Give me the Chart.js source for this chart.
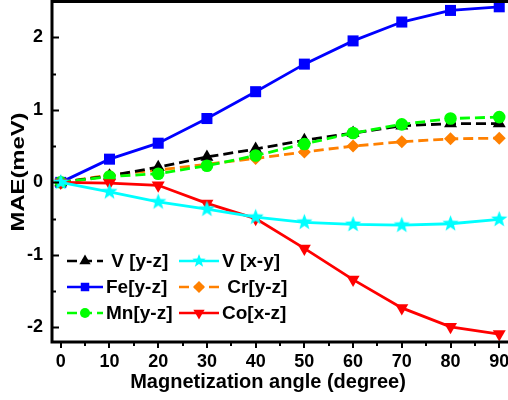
<!DOCTYPE html>
<html>
<head>
<meta charset="utf-8">
<script src="https://cdn.jsdelivr.net/npm/chart.js@4.4.1/dist/chart.umd.min.js"></script>
<style>
  html, body { margin: 0; padding: 0; background: #fff; }
</style>
</head>
<body>
<canvas id="mae" width="508" height="400"></canvas>
<script>
// magnetization angle (degree) and MAE (meV) per system
const angles = [0, 10, 20, 30, 40, 50, 60, 70, 80, 90];
const vYZ  = [0, 0.09, 0.21, 0.35, 0.46, 0.58, 0.68, 0.78, 0.81, 0.81];
const vXY  = [0, -0.13, -0.27, -0.37, -0.48, -0.55, -0.58, -0.59, -0.57, -0.51];
const feYZ = [0, 0.32, 0.54, 0.88, 1.25, 1.63, 1.95, 2.21, 2.37, 2.42];
const crYZ = [0, 0.10, 0.17, 0.25, 0.33, 0.42, 0.50, 0.56, 0.60, 0.61];
const mnYZ = [0, 0.08, 0.12, 0.23, 0.37, 0.53, 0.68, 0.80, 0.88, 0.90];
const coXZ = [0, -0.01, -0.04, -0.29, -0.50, -0.91, -1.34, -1.73, -1.99, -2.09];
const seriesLabels = [' V [y-z]', 'V [x-y]', 'Fe[y-z]', ' Cr[y-z]', 'Mn[y-z]', 'Co[x-z]'];
const xTicks = [0, 10, 20, 30, 40, 50, 60, 70, 80, 90];
const yTicks = [-2, -1, 0, 1, 2];

const FONT = 'Liberation Sans, Arial, sans-serif';

// filled 5 point star, chart.js 'star' is only an outline
function starImg(r, color) {
  const c = document.createElement('canvas');
  const s = Math.ceil(r * 2) + 2;
  c.width = s; c.height = s;
  const g = c.getContext('2d');
  g.fillStyle = color;
  g.beginPath();
  for (let i = 0; i < 10; i++) {
    const rr = i % 2 ? r * 0.42 : r;
    const a = -Math.PI / 2 + i * Math.PI / 5;
    g.lineTo(s / 2 + rr * Math.cos(a), s / 2 + rr * Math.sin(a));
  }
  g.closePath();
  g.fill();
  return c;
}

function series(label, values, color, style, radius, dashed, order, rot, legendStyle, legendRadius) {
  return {
    label: label,
    data: angles.map((a, i) => ({ x: a, y: values[i] })),
    borderColor: color,
    backgroundColor: color,
    borderWidth: 2.8,
    borderDash: dashed ? [10, 5] : [],
    pointStyle: style,
    pointRadius: radius,
    pointHoverRadius: radius,
    pointRotation: rot || 0,
    pointBorderWidth: 0,
    pointBackgroundColor: color,
    tension: 0,
    order: order,
    legendStyle: legendStyle || style,
    legendRadius: legendRadius
  };
}

const datasets = [
  series(seriesLabels[0], vYZ, '#000000', 'triangle', 7.5, true, 4, 0, null, 6.5),
  series(seriesLabels[1], vXY, '#00ffff', starImg(8.5, '#00ffff'), 8, false, 1, 0, starImg(7, '#00ffff'), 7),
  series(seriesLabels[2], feYZ, '#0000ff', 'rect', 7.8, false, 6, 0, null, 6),
  series(seriesLabels[3], crYZ, '#ff8000', 'rectRot', 6.5, true, 5, 0, null, 6),
  series(seriesLabels[4], mnYZ, '#00ff00', 'circle', 6.3, true, 3, 0, null, 5),
  series(seriesLabels[5], coXZ, '#ff0000', 'triangle', 7.5, false, 2, 180, null, 6.5)
];

// frame, inward/outward ticks, axis titles and the in-plot legend
const decor = {
  id: 'decor',
  afterDraw(chart) {
    const { ctx, chartArea: a, scales: { x, y } } = chart;
    ctx.save();
    ctx.strokeStyle = '#000';
    ctx.lineWidth = 3;
    ctx.setLineDash([]);
    ctx.strokeRect(a.left, a.top + 0.5, a.right - a.left + 3, a.bottom - a.top - 0.5);

    ctx.lineWidth = 2;
    ctx.beginPath();
    for (let v = -2; v <= 2; v += 0.5) {
      const py = Math.round(y.getPixelForValue(v)) + 0.5;
      const len = Number.isInteger(v) ? 7 : 4;
      ctx.moveTo(a.left, py);
      ctx.lineTo(a.left + len, py);
    }
    for (let v = 0; v <= 90; v += 5) {
      const px = Math.round(x.getPixelForValue(v));
      const len = v % 10 === 0 ? 6 : 4;
      ctx.moveTo(px, a.bottom);
      ctx.lineTo(px, a.bottom + len);
    }
    ctx.stroke();

    // axis titles
    ctx.fillStyle = '#000';
    ctx.font = 'bold 20px ' + FONT;
    ctx.textAlign = 'center';
    ctx.textBaseline = 'middle';
    ctx.fillText('Magnetization angle (degree)', 268, 382);
    ctx.save();
    ctx.translate(19, 172);
    ctx.rotate(-Math.PI / 2);
    ctx.scale(1.25, 1);
    ctx.font = 'bold 19px ' + FONT;
    ctx.fillText('MAE(meV)', 0, 0);
    ctx.restore();

    // legend, two columns by three rows
    const colLine = [[67, 103], [179, 219]];
    const colText = [106, 222];
    const rowY = [261, 287, 313];
    ctx.font = 'bold 19px ' + FONT;
    ctx.textAlign = 'left';
    chart.data.datasets.forEach((ds, i) => {
      const c = i % 2, r = Math.floor(i / 2);
      const yy = rowY[r];
      ctx.strokeStyle = ds.borderColor;
      ctx.lineWidth = 2.5;
      ctx.setLineDash(ds.borderDash);
      ctx.beginPath();
      ctx.moveTo(colLine[c][0], yy);
      ctx.lineTo(colLine[c][1], yy);
      ctx.stroke();
      ctx.setLineDash([]);
      ctx.fillStyle = ds.borderColor;
      Chart.helpers.drawPoint(ctx, {
        pointStyle: ds.legendStyle,
        radius: ds.legendRadius,
        rotation: ds.pointRotation,
        borderWidth: 0
      }, (colLine[c][0] + colLine[c][1]) / 2, yy);
      ctx.fillStyle = '#000';
      ctx.fillText(ds.label, colText[c], yy + 1);
    });
    ctx.restore();
  }
};

const tickFont = { family: FONT, size: 18, weight: 'bold' };

new Chart(document.getElementById('mae'), {
  type: 'line',
  data: { datasets: datasets },
  options: {
    responsive: false,
    animation: false,
    layout: { autoPadding: false, padding: { top: 1, right: 0, left: 0, bottom: 0 } },
    plugins: { legend: { display: false }, tooltip: { enabled: false } },
    scales: {
      x: {
        type: 'linear',
        min: -1.8,
        max: 91.8,
        grid: { display: false, drawTicks: false },
        border: { display: false },
        ticks: { font: tickFont, color: '#000', padding: 9, maxRotation: 0 },
        afterBuildTicks: s => { s.ticks = xTicks.map(v => ({ value: v })); },
        afterFit: s => { s.height = 58; s.paddingLeft = 0; s.paddingRight = 0; }
      },
      y: {
        type: 'linear',
        min: -2.2,
        max: 2.5,
        grid: { display: false, drawTicks: false },
        border: { display: false },
        ticks: { font: tickFont, color: '#000', padding: 9 },
        afterBuildTicks: s => { s.ticks = yTicks.map(v => ({ value: v })); },
        afterFit: s => { s.width = 52; s.paddingTop = 0; s.paddingBottom = 0; }
      }
    }
  },
  plugins: [decor]
});
</script>
</body>
</html>
